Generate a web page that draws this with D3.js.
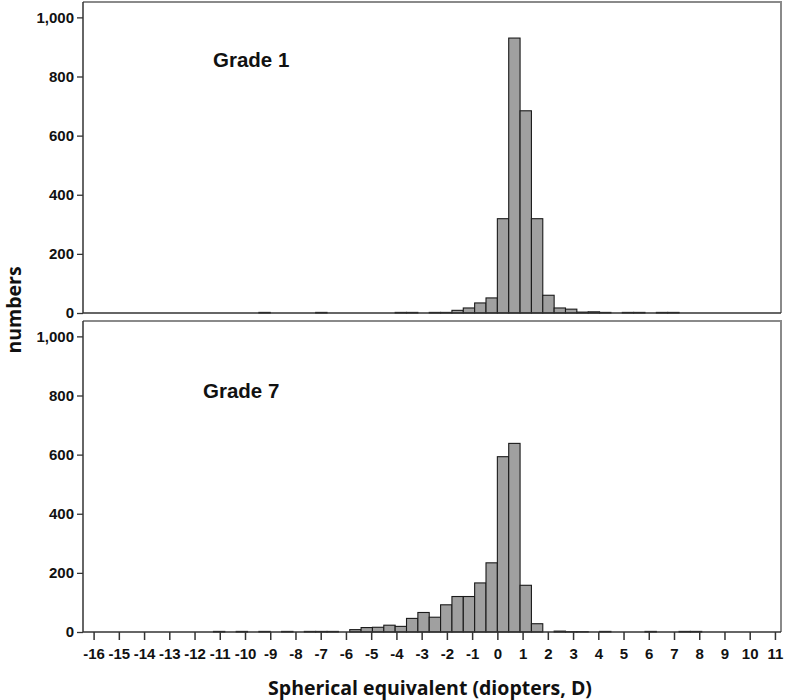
<!DOCTYPE html>
<html>
<head>
<meta charset="utf-8">
<script src="https://cdn.jsdelivr.net/npm/d3@7"></script>
<style>
  html, body { margin: 0; padding: 0; background: #fff; }
  svg text { font-family: "Liberation Sans", Arial, sans-serif; font-weight: bold; fill: #111; }
  svg text.title { font-family: "Open Sans", "Liberation Sans", sans-serif; font-weight: 700; }
</style>
</head>
<body>
<svg id="chart" width="787" height="700"></svg>
<script>
// ---- data ----
const binWidth = 0.45;
const binLower = [-11.25, -10.8, -10.35, -9.9, -9.45, -9.0, -8.55, -8.1, -7.65, -7.2,
  -6.75, -6.3, -5.85, -5.4, -4.95, -4.5, -4.05, -3.6, -3.15, -2.7,
  -2.25, -1.8, -1.35, -0.9, -0.45, 0, 0.45, 0.9, 1.35, 1.8,
  2.25, 2.7, 3.15, 3.6, 4.05, 4.5, 4.95, 5.4, 5.85, 6.3,
  6.75, 7.2, 7.65];
const grade1Counts = [0,0,0,0,2, 0,0,0,0,2, 0,0,0,0,0, 0,2,2,0,2,
  2,9,17,34,51, 319,930,684,319,60, 17,13,3,4,2, 0,2,2,0,2, 2,0,0];
const grade7Counts = [2,0,2,0,2, 0,2,0,2,2, 2,0,8,15,16, 23,19,46,66,50,
  92,120,120,166,234, 593,638,158,28,0, 3,1,1,0,2, 0,0,0,2,0, 0,2,2];
const panelLabels = ["Grade 1", "Grade 7"];
const xTickValues = [-16,-15,-14,-13,-12,-11,-10,-9,-8,-7,-6,-5,-4,-3,-2,-1,0,1,2,3,4,5,6,7,8,9,10,11];
const yTickValues = [0, 200, 400, 600, 800, 1000];
const xTitle = "Spherical equivalent (diopters, D)";
const yTitle = "numbers";

// ---- layout ----
const svg = d3.select("#chart");
const left = 83, right = 781;
const panels = [
  { top: 2, bottom: 313, counts: grade1Counts, label: panelLabels[0], lx: 213, ly: 67, showX: false },
  { top: 321, bottom: 632, counts: grade7Counts, label: panelLabels[1], lx: 203, ly: 398, showX: true }
];

const x = d3.scaleLinear().domain([-16.42, 11.24]).range([left, right]);
const yMax = 1052;

panels.forEach(p => {
  const y = d3.scaleLinear().domain([0, yMax]).range([p.bottom, p.top]);
  const g = svg.append("g");

  // frame (top & right, gray)
  g.append("path")
    .attr("d", `M${left},${p.top}H${right}V${p.bottom}`)
    .attr("fill", "none").attr("stroke", "#8a8a8a").attr("stroke-width", 2);

  // bars
  const bins = binLower.map((b, i) => ({ x0: b, x1: b + binWidth, n: p.counts[i] }))
    .filter(d => d.n > 0);
  g.selectAll("rect.bar").data(bins).enter().append("rect")
    .attr("class", "bar")
    .attr("x", d => x(d.x0))
    .attr("width", d => x(d.x1) - x(d.x0))
    .attr("y", d => y(d.n))
    .attr("height", d => y(0) - y(d.n))
    .attr("fill", "#a0a0a0")
    .attr("stroke", "#1a1a1a")
    .attr("stroke-width", 1.1);

  // y axis
  const yAxis = d3.axisLeft(y).tickValues(yTickValues).tickFormat(d3.format(","))
    .tickSize(6).tickPadding(3);
  const ya = g.append("g").attr("transform", `translate(${left},0)`).call(yAxis);
  ya.select(".domain").attr("stroke", "#333").attr("stroke-width", 1.5)
    .attr("d", `M0,${p.top}V${p.bottom}`);
  ya.selectAll(".tick line").attr("stroke", "#333").attr("stroke-width", 1.3);
  ya.selectAll(".tick text").style("font-size", "15px").attr("fill", "#111");

  // x axis
  if (p.showX) {
    const xAxis = d3.axisBottom(x).tickValues(xTickValues).tickFormat(d3.format("d"))
      .tickSize(8).tickPadding(8);
    const xa = g.append("g").attr("transform", `translate(0,${p.bottom})`).call(xAxis);
    xa.select(".domain").attr("stroke", "#333").attr("stroke-width", 1.5)
      .attr("d", `M${left},0H${right}`);
    xa.selectAll(".tick line").attr("stroke", "#333").attr("stroke-width", 1.5);
    xa.selectAll(".tick text").style("font-size", "15px").attr("fill", "#111")
      .text(d => d < 0 ? "-" + Math.abs(d) : d);
  } else {
    g.append("line").attr("x1", left).attr("x2", right)
      .attr("y1", p.bottom).attr("y2", p.bottom)
      .attr("stroke", "#333").attr("stroke-width", 1.5);
  }

  // panel label
  g.append("text").attr("x", p.lx).attr("y", p.ly)
    .style("font-size", "20.5px").text(p.label);
});

// axis titles
svg.append("text")
  .attr("class", "title")
  .attr("x", 430).attr("y", 695)
  .attr("text-anchor", "middle")
  .style("font-size", "19.5px")
  .text(xTitle);

svg.append("text")
  .attr("class", "title")
  .attr("transform", "translate(21,310) rotate(-90)")
  .attr("text-anchor", "middle")
  .style("font-size", "19.5px")
  .text(yTitle);
</script>
</body>
</html>
